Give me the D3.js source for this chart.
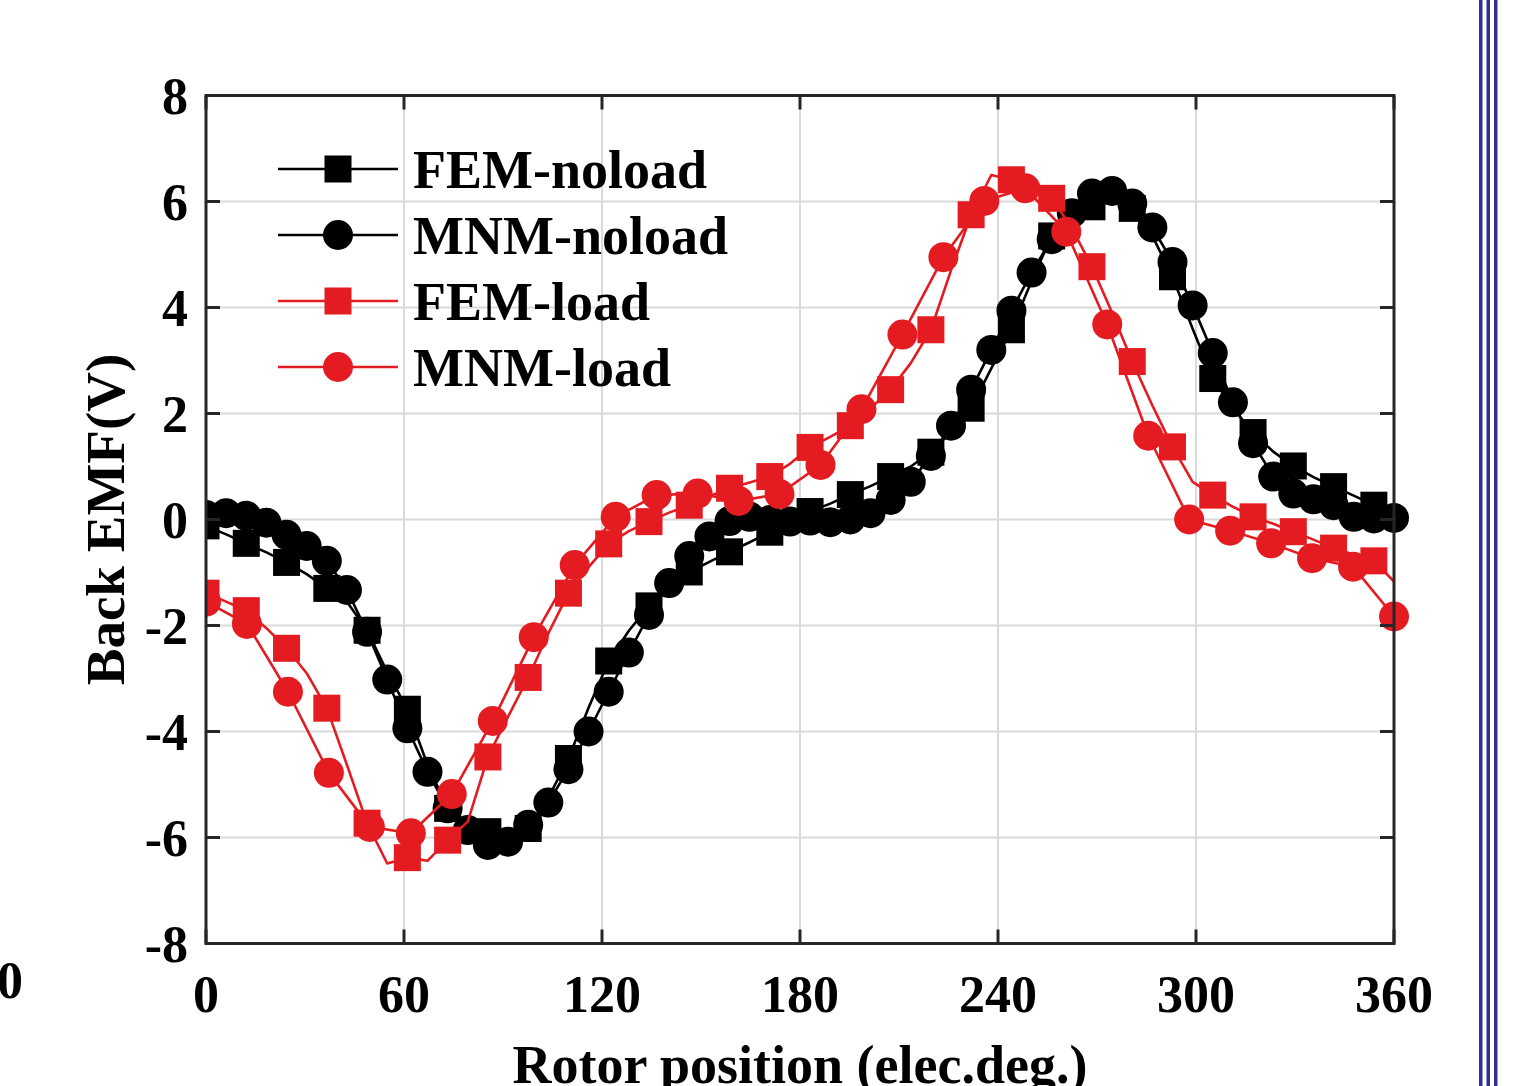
<!DOCTYPE html>
<html>
<head>
<meta charset="utf-8">
<script src="https://cdn.jsdelivr.net/npm/d3@7"></script>
<style>
  html, body { margin: 0; padding: 0; background: #fff; }
  svg { display: block; }
  text { font-family: "Liberation Serif", "Times New Roman", serif; font-weight: bold; fill: #000; }
</style>
</head>
<body>
<script>
// Rotor angle samples (elec. deg.): 60-point sets for FEM / MNM-noload, 30-point set for MNM-load
const angles60 = [0, 6.10, 12.20, 18.31, 24.41, 30.51, 36.61, 42.71, 48.81, 54.92,
  61.02, 67.12, 73.22, 79.32, 85.42, 91.53, 97.63, 103.73, 109.83, 115.93,
  122.03, 128.14, 134.24, 140.34, 146.44, 152.54, 158.64, 164.75, 170.85, 176.95,
  183.05, 189.15, 195.25, 201.36, 207.46, 213.56, 219.66, 225.76, 231.86, 237.97,
  244.07, 250.17, 256.27, 262.37, 268.47, 274.58, 280.68, 286.78, 292.88, 298.98,
  305.08, 311.19, 317.29, 323.39, 329.49, 335.59, 341.69, 347.80, 353.90, 360];
const angles30 = [0, 12.41, 24.83, 37.24, 49.66, 62.07, 74.48, 86.90, 99.31, 111.72,
  124.14, 136.55, 148.97, 161.38, 173.79, 186.21, 198.62, 211.03, 223.45, 235.86,
  248.28, 260.69, 273.10, 285.52, 297.93, 310.34, 322.76, 335.17, 347.59, 360];

// Back EMF (V)
const femNoload = [-0.12, -0.28, -0.45, -0.62, -0.81, -1.03, -1.30, -1.55, -2.09, -2.88,
  -3.58, -4.63, -5.45, -5.80, -5.89, -5.95, -5.83, -5.25, -4.51, -3.55,
  -2.67, -2.10, -1.63, -1.30, -0.99, -0.80, -0.61, -0.43, -0.24, -0.05,
  0.15, 0.30, 0.47, 0.63, 0.81, 1.00, 1.27, 1.65, 2.10, 2.85,
  3.58, 4.50, 5.35, 5.70, 5.90, 6.00, 5.87, 5.35, 4.58, 3.60,
  2.66, 2.10, 1.64, 1.28, 1.01, 0.80, 0.62, 0.45, 0.27, 0.05];
const mnmNoload = [0.085, 0.12, 0.07, -0.06, -0.29, -0.50, -0.78, -1.33, -2.12, -3.02,
  -3.94, -4.76, -5.45, -5.86, -6.14, -6.08, -5.76, -5.34, -4.71, -4.00,
  -3.25, -2.51, -1.80, -1.20, -0.69, -0.32, -0.03, 0.05, -0.01, -0.04,
  -0.02, -0.05, 0.00, 0.12, 0.37, 0.71, 1.20, 1.77, 2.45, 3.20,
  3.94, 4.66, 5.29, 5.78, 6.15, 6.20, 5.96, 5.51, 4.86, 4.04,
  3.14, 2.21, 1.44, 0.81, 0.49, 0.38, 0.27, 0.05, 0.02, 0.03];
const femLoad = [-1.39, -1.55, -1.72, -2.05, -2.43, -2.90, -3.56, -4.63, -5.73, -6.49,
  -6.38, -6.44, -6.05, -5.70, -4.48, -3.72, -2.98, -2.15, -1.39, -0.90,
  -0.46, -0.22, -0.04, 0.13, 0.27, 0.44, 0.59, 0.70, 0.81, 1.05,
  1.36, 1.56, 1.77, 2.10, 2.45, 2.95, 3.58, 4.70, 5.75, 6.50,
  6.41, 6.30, 6.06, 5.50, 4.77, 3.90, 2.98, 2.15, 1.37, 0.71,
  0.46, 0.24, 0.05, -0.08, -0.23, -0.38, -0.54, -0.66, -0.78, -1.17];
const mnmLoad = [-1.55, -1.97, -3.25, -4.78, -5.80, -5.92, -5.18, -3.80, -2.22, -0.86,
  0.05, 0.46, 0.49, 0.35, 0.48, 1.03, 2.08, 3.49, 4.95, 6.01,
  6.25, 5.43, 3.68, 1.58, 0.00, -0.21, -0.45, -0.73, -0.89, -1.83];

const xTicks = [0, 60, 120, 180, 240, 300, 360];
const yTicks = [-8, -6, -4, -2, 0, 2, 4, 6, 8];
const seriesNames = ["FEM-noload", "MNM-noload", "FEM-load", "MNM-load"];

const W = 1528, H = 1086;
const RED = "#e41c21";
const svg = d3.select("body").append("svg").attr("width", W).attr("height", H);

const x = d3.scaleLinear().domain([0, 360]).range([206, 1394]);
const y = d3.scaleLinear().domain([-8, 8]).range([943.5, 95.5]);
const [x0, x1] = x.range();
const [yb, yt] = y.range();

// grid
const grid = svg.append("g").attr("stroke", "#dadada").attr("stroke-width", 2);
grid.selectAll(".gx").data(xTicks).join("line")
  .attr("x1", d => x(d)).attr("x2", d => x(d)).attr("y1", yt).attr("y2", yb);
grid.selectAll(".gy").data(yTicks).join("line")
  .attr("x1", x0).attr("x2", x1).attr("y1", d => y(d)).attr("y2", d => y(d));

// clip: markers are cut at the left axis
svg.append("clipPath").attr("id", "plotclip").append("rect")
  .attr("x", x0).attr("y", yt - 40).attr("width", x1 - x0 + 40).attr("height", yb - yt + 80);

const plot = svg.append("g").attr("clip-path", "url(#plotclip)");
const line = d3.line().x(d => x(d[0])).y(d => y(d[1]));

const series = [
  { name: seriesNames[0], xs: angles60, ys: femNoload, color: "#000", shape: "square", every: 2, skipLast: true },
  { name: seriesNames[1], xs: angles60, ys: mnmNoload, color: "#000", shape: "circle", every: 1, skipLast: false },
  { name: seriesNames[2], xs: angles60, ys: femLoad, color: RED, shape: "square", every: 2, skipLast: true },
  { name: seriesNames[3], xs: angles30, ys: mnmLoad, color: RED, shape: "circle", every: 1, skipLast: false }
];

function drawMarker(g, shape, cx, cy, color) {
  if (shape === "square") {
    g.append("rect").attr("x", cx - 13.5).attr("y", cy - 13.5)
      .attr("width", 27).attr("height", 27).attr("fill", color);
  } else {
    g.append("circle").attr("cx", cx).attr("cy", cy).attr("r", 15).attr("fill", color);
  }
}

series.forEach(s => {
  const pts = s.xs.map((a, i) => [a, s.ys[i]]);
  const g = plot.append("g");
  g.append("path").attr("d", line(pts)).attr("fill", "none")
    .attr("stroke", s.color).attr("stroke-width", 2.6).attr("stroke-linejoin", "round");
  pts.forEach((p, i) => {
    if (i % s.every !== 0) return;
    if (s.skipLast && i === pts.length - 1) return;
    drawMarker(g, s.shape, x(p[0]), y(p[1]), s.color);
  });
});

// axes box with inward ticks on all sides
const ax = svg.append("g").attr("stroke", "#262626").attr("stroke-width", 3).attr("fill", "none");
ax.append("rect").attr("x", x0).attr("y", yt).attr("width", x1 - x0).attr("height", yb - yt);
const tl = 14;
xTicks.forEach(t => {
  ax.append("line").attr("x1", x(t)).attr("x2", x(t)).attr("y1", yb).attr("y2", yb - tl);
  ax.append("line").attr("x1", x(t)).attr("x2", x(t)).attr("y1", yt).attr("y2", yt + tl);
});
yTicks.forEach(t => {
  ax.append("line").attr("x1", x0).attr("x2", x0 + tl).attr("y1", y(t)).attr("y2", y(t));
  ax.append("line").attr("x1", x1).attr("x2", x1 - tl).attr("y1", y(t)).attr("y2", y(t));
});

// tick labels
svg.append("g").selectAll("text").data(xTicks).join("text")
  .attr("x", d => x(d)).attr("y", 1012).attr("text-anchor", "middle")
  .attr("font-size", 52).attr("fill", "#262626").text(d => d);
svg.append("g").selectAll("text").data(yTicks).join("text")
  .attr("x", 188).attr("y", d => y(d)).attr("dy", "0.35em").attr("text-anchor", "end")
  .attr("font-size", 52).attr("fill", "#262626").text(d => d);

// axis titles
svg.append("text").attr("x", (x0 + x1) / 2).attr("y", 1083).attr("text-anchor", "middle")
  .attr("font-size", 54).text("Rotor position (elec.deg.)");
svg.append("text").attr("transform", `translate(124, ${(yt + yb) / 2}) rotate(-90)`)
  .attr("text-anchor", "middle").attr("font-size", 55).text("Back EMF(V)");

// legend
const legend = svg.append("g");
const rows = [169, 235, 301, 367];
series.forEach((s, i) => {
  const ry = rows[i];
  legend.append("line").attr("x1", 278).attr("x2", 398).attr("y1", ry).attr("y2", ry)
    .attr("stroke", s.color).attr("stroke-width", 2.6);
  drawMarker(legend, s.shape, 338, ry, s.color);
  legend.append("text").attr("x", 413).attr("y", ry).attr("dy", "0.35em")
    .attr("font-size", 54).text(s.name);
});

// neighbouring panel edge: stray tick label and border rules
svg.append("text").attr("x", -3).attr("y", 998).attr("font-size", 52).attr("fill", "#262626").text("0");
const rules = svg.append("g").attr("fill", "#2e3192");
[1479, 1486.5, 1494].forEach(px => {
  rules.append("rect").attr("x", px).attr("y", 0).attr("width", 3.5).attr("height", H);
});
</script>
</body>
</html>
